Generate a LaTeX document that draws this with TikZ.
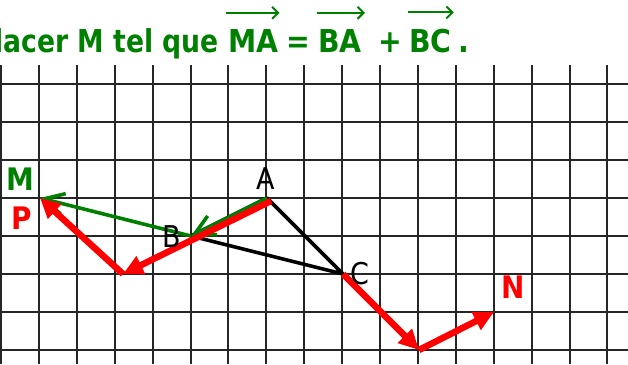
\documentclass[tikz,border=0pt]{standalone}
\usepackage{fontspec}
\setmainfont{DejaVu Sans Condensed}[BoldFont={DejaVu Sans Condensed Bold}]
\usetikzlibrary{arrows.meta}
\definecolor{dgreen}{RGB}{0,128,0}
\definecolor{vred}{RGB}{255,0,0}
\begin{document}
\begin{tikzpicture}[x=1pt,y=-1pt,
  gridline/.style={line width=2pt,black!85},
  tri/.style={line width=3.6pt,black,line join=round},
  gvec/.style={line width=3.6pt,dgreen,-{Straight Barb[length=20pt,width=21pt]}},
  rvec/.style={line width=6.5pt,vred,-{Triangle[length=20pt,width=19pt]}},
  tarrow/.style={line width=2pt,dgreen,-{Straight Barb[length=6pt,width=12pt]}},
  ptlabel/.style={font=\fontsize{30}{30}\selectfont,inner sep=0pt},
  bigl/.style={font=\fontsize{31}{31}\selectfont\bfseries,inner sep=0pt},
  ttl/.style={font=\fontsize{31.5}{31.5}\selectfont\bfseries,text=dgreen,inner sep=0pt,anchor=base west}]
\useasboundingbox (0,0) rectangle (628,364);
\clip (0,0) rectangle (628,364);
% grid
\foreach \i in {0,...,16} \draw[gridline] (1+37.9*\i,65) -- (1+37.9*\i,364);
\foreach \j in {0,...,7} \draw[gridline] (0,84+38*\j) -- (628,84+38*\j);
% title
\node[ttl,anchor=base east] (t1) at (219,52) {\scalebox{0.94}[1]{Placer M tel que}};
\node[ttl] (ma) at (228,52) {MA};
\node[ttl] (eq) at (286,52) {=};
\node[ttl] (ba) at (318,52) {BA};
\node[ttl] (pl) at (378,52) {+};
\node[ttl] (bc) at (409,52) {BC};
\node[ttl] (dt) at (458,52) {.};
\draw[tarrow] ([xshift=-2pt,yshift=16pt]ma.north west) -- ([xshift=1pt,yshift=16pt]ma.north east);
\draw[tarrow] ([xshift=-1pt,yshift=16pt]ba.north west) -- ([xshift=3pt,yshift=16pt]ba.north east);
\draw[tarrow] ([xshift=-1pt,yshift=16pt]bc.north west) -- ([xshift=2pt,yshift=16pt]bc.north east);
% points
\coordinate (A) at (267,198);
\coordinate (B) at (191,236);
\coordinate (C) at (343,274);
\coordinate (M) at (40,198);
\coordinate (Ar) at (271,201);
\coordinate (R1) at (123,274);
\coordinate (D) at (419,350);
\coordinate (N) at (494,312);
% triangle
\draw[tri] (A) -- (B) -- (C) -- cycle;
% green vectors
\draw[gvec] (A) -- (B);
\draw[gvec] (B) -- (M);
% red vectors
\draw[rvec] (Ar) -- (R1);
\draw[rvec] (R1) -- (M);
\draw[rvec] (C) -- (D);
\draw[rvec] (D) -- (N);
% labels
\node[ptlabel] (lA) at (265.5,179) {A};
\node[ptlabel] (lB) at (172,237) {B};
\node[ptlabel] (lC) at (360,273.5) {C};
\node[bigl,text=dgreen] (lM) at (20,179.5) {M};
\node[bigl,text=vred] (lP) at (21.5,218) {P};
\node[bigl,text=vred] (lN) at (513,287.5) {N};
\end{tikzpicture}
\end{document}
